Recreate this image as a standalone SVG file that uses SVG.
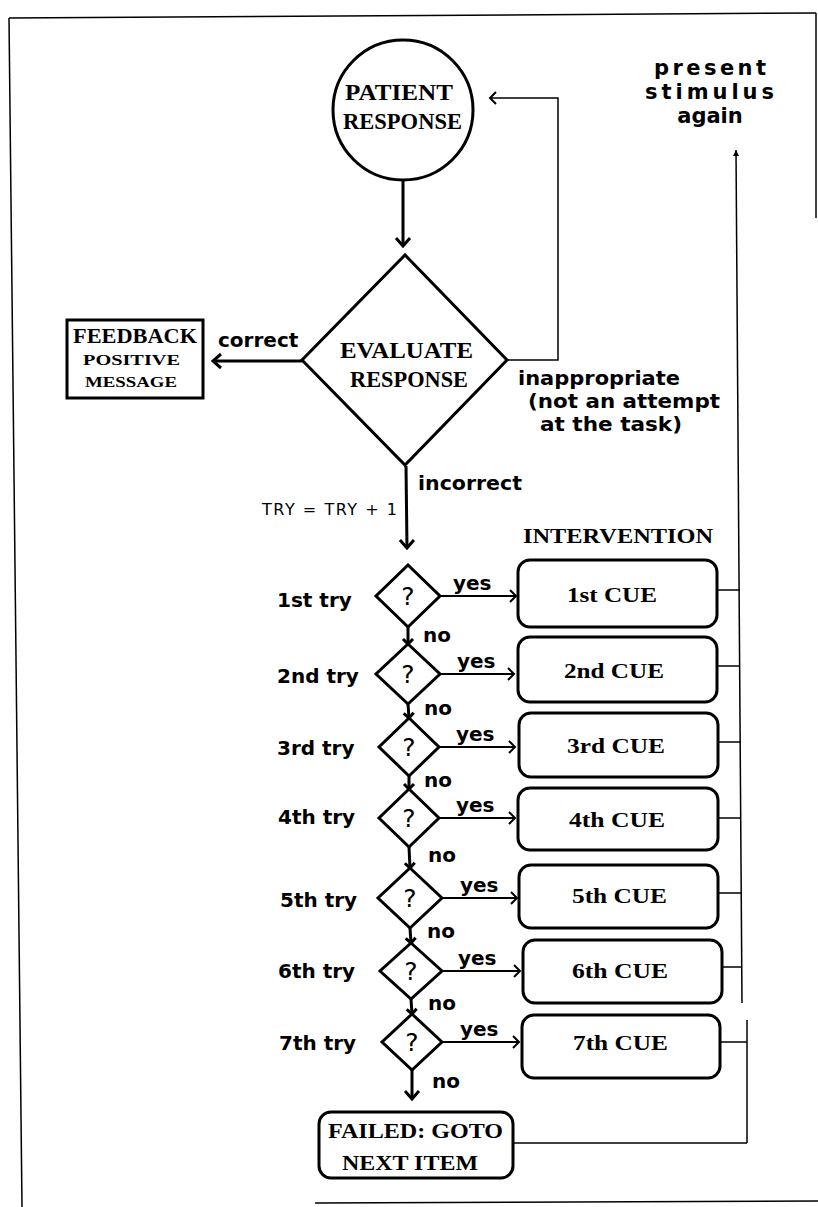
<svg xmlns="http://www.w3.org/2000/svg" width="818" height="1207" viewBox="0 0 818 1207">
<style>
.thick{fill:none;stroke:#000;stroke-width:3}
.shape{fill:#fff;stroke:#000;stroke-width:3}
.thin{fill:none;stroke:#000;stroke-width:1.5}
.yes{fill:none;stroke:#000;stroke-width:2}
.lbl{font-family:"DejaVu Sans",sans-serif;font-weight:bold;font-size:20px;fill:#000}
.node{font-family:"Liberation Serif",serif;font-weight:bold;fill:#000;text-anchor:middle}
.q{font-family:"DejaVu Sans",sans-serif;font-size:25px;text-anchor:middle;fill:#000}
.mid{text-anchor:middle}
.stim{font-family:"DejaVu Sans",sans-serif;font-weight:bold;font-size:21px;fill:#000;text-anchor:middle}
</style>
<defs>
<marker id="ahBold" markerUnits="userSpaceOnUse" viewBox="-12 -9 14 18" refX="0" refY="0" markerWidth="14" markerHeight="18" orient="auto"><path d="M-8,-7 L0,0 L-8,7" fill="none" stroke="#000" stroke-width="3"/></marker>
<marker id="ahOpen" markerUnits="userSpaceOnUse" viewBox="-10 -8 12 16" refX="0" refY="0" markerWidth="12" markerHeight="16" orient="auto"><path d="M-6,-6 L0,0 L-6,6" fill="none" stroke="#000" stroke-width="2"/></marker>
<marker id="ahSmall" markerUnits="userSpaceOnUse" viewBox="-8 -7 10 14" refX="0" refY="0" markerWidth="10" markerHeight="14" orient="auto"><path d="M-5,-5 L0,0 L-5,5" fill="none" stroke="#000" stroke-width="3"/></marker>
<marker id="ahTiny" markerUnits="userSpaceOnUse" viewBox="-8 -5 10 10" refX="0" refY="0" markerWidth="10" markerHeight="10" orient="auto"><path d="M-6,-3 L0,0 L-6,3 Z" fill="#000"/></marker>
</defs>
<rect width="818" height="1207" fill="#fff"/>
<g id="frame" class="thin">
<path d="M9,18 L816,13"/>
<path d="M9,18 L22,1207"/>
<path d="M816,13 L816,218"/>
<path d="M315,1203 L818,1201"/>
</g>
<g id="connectors">
<path class="thick" d="M403,181 L403,246" marker-end="url(#ahBold)"/>
<path class="thick" d="M302,361 L213,361" marker-end="url(#ahBold)"/>
<path class="thin" d="M507,360 L558,360 L558,98 L490,98" marker-end="url(#ahOpen)"/>
<path class="thick" d="M406,466 L407,548" marker-end="url(#ahBold)"/>
<path class="thick" d="M408,627 L408,644" marker-end="url(#ahSmall)"/>
<path class="thick" d="M408,704 L409,718" marker-end="url(#ahSmall)"/>
<path class="thick" d="M409,776 L409,789" marker-end="url(#ahSmall)"/>
<path class="thick" d="M409,847 L410,868" marker-end="url(#ahSmall)"/>
<path class="thick" d="M410,928 L411,943" marker-end="url(#ahSmall)"/>
<path class="thick" d="M411,999 L412,1014" marker-end="url(#ahSmall)"/>
<path class="thick" d="M412,1070 L412,1099" marker-end="url(#ahBold)"/>
<path class="yes" d="M440,596 L516,596" marker-end="url(#ahOpen)"/>
<path class="yes" d="M440,674 L514,674" marker-end="url(#ahOpen)"/>
<path class="yes" d="M439,747 L515,747" marker-end="url(#ahOpen)"/>
<path class="yes" d="M439,818 L515,818" marker-end="url(#ahOpen)"/>
<path class="yes" d="M442,898 L517,898" marker-end="url(#ahOpen)"/>
<path class="yes" d="M442,971 L520,971" marker-end="url(#ahOpen)"/>
<path class="yes" d="M442,1042 L519,1042" marker-end="url(#ahOpen)"/>
<path class="thin" d="M742,1003 L736,150" marker-end="url(#ahTiny)"/>
<path class="thin" d="M717,590 L740,590"/>
<path class="thin" d="M717,666 L740,666"/>
<path class="thin" d="M718,742 L741,742"/>
<path class="thin" d="M718,818 L741,818"/>
<path class="thin" d="M718,893 L742,893"/>
<path class="thin" d="M722,967 L742,967"/>
<path class="thin" d="M747,1020 L747,1143"/>
<path class="thin" d="M720,1042 L747,1042"/>
<path class="thin" d="M513,1143 L747,1143"/>
</g>
<g id="patient-response">
<circle class="shape" cx="403" cy="110" r="70"/>
<text class="node" x="399" y="100" font-size="24" textLength="108" lengthAdjust="spacingAndGlyphs">PATIENT</text>
<text class="node" x="402.5" y="129" font-size="23" textLength="119" lengthAdjust="spacingAndGlyphs">RESPONSE</text>
</g>
<g id="evaluate-response">
<polygon class="shape" points="405,255 507,360 405,465 302,360"/>
<text class="node" x="406.5" y="358" font-size="24" textLength="133" lengthAdjust="spacingAndGlyphs">EVALUATE</text>
<text class="node" x="409" y="387" font-size="23" textLength="118" lengthAdjust="spacingAndGlyphs">RESPONSE</text>
</g>
<g id="feedback">
<rect class="shape" x="67" y="320" width="136" height="78"/>
<text class="node" x="135" y="343" font-size="22" textLength="124" lengthAdjust="spacingAndGlyphs">FEEDBACK</text>
<text class="node" x="131.5" y="365" font-size="15" textLength="97" lengthAdjust="spacingAndGlyphs">POSITIVE</text>
<text class="node" x="131" y="387" font-size="15" textLength="92" lengthAdjust="spacingAndGlyphs">MESSAGE</text>
</g>
<g id="labels">
<text class="lbl" x="218" y="347">correct</text>
<text class="lbl" x="518" y="385" textLength="162" lengthAdjust="spacingAndGlyphs">inappropriate</text>
<text class="lbl" x="528" y="408" textLength="192" lengthAdjust="spacingAndGlyphs">(not an attempt</text>
<text class="lbl" x="540" y="431" textLength="142" lengthAdjust="spacingAndGlyphs">at the task)</text>
<text class="lbl" x="418" y="490" textLength="104" lengthAdjust="spacingAndGlyphs">incorrect</text>
<text x="262" y="515" font-family="DejaVu Sans, sans-serif" font-size="16" textLength="135" lengthAdjust="spacing">TRY = TRY + 1</text>
<text class="node" x="618" y="543" font-size="21" textLength="190" lengthAdjust="spacingAndGlyphs">INTERVENTION</text>
<text class="stim" x="710" y="75" textLength="112" lengthAdjust="spacing">present</text>
<text class="stim" x="709.5" y="99" textLength="129" lengthAdjust="spacing">stimulus</text>
<text class="stim" x="710" y="123">again</text>
<text class="lbl" x="277" y="607">1st try</text>
<text class="lbl" x="277" y="683">2nd try</text>
<text class="lbl" x="277" y="755">3rd try</text>
<text class="lbl" x="278" y="824">4th try</text>
<text class="lbl" x="280" y="907">5th try</text>
<text class="lbl" x="278" y="978">6th try</text>
<text class="lbl" x="279" y="1050">7th try</text>
<text class="lbl" x="453" y="590">yes</text>
<text class="lbl" x="457" y="668">yes</text>
<text class="lbl" x="456" y="741">yes</text>
<text class="lbl" x="456" y="812">yes</text>
<text class="lbl" x="460" y="892">yes</text>
<text class="lbl" x="458" y="965">yes</text>
<text class="lbl" x="460" y="1036">yes</text>
<text class="lbl" x="423" y="642">no</text>
<text class="lbl" x="424" y="715">no</text>
<text class="lbl" x="424" y="787">no</text>
<text class="lbl" x="428" y="862">no</text>
<text class="lbl" x="427" y="938">no</text>
<text class="lbl" x="428" y="1010">no</text>
<text class="lbl" x="432" y="1088">no</text>
</g>
<g id="try1"><polygon class="shape" points="408,565 440,596 408,627 376,596"/><text class="q" x="408" y="605">?</text></g>
<g id="try2"><polygon class="shape" points="408,644 440,674 408,704 376,674"/><text class="q" x="408" y="683">?</text></g>
<g id="try3"><polygon class="shape" points="409,718 439,747 409,776 379,747"/><text class="q" x="409" y="756">?</text></g>
<g id="try4"><polygon class="shape" points="409,789 439,818 409,847 379,818"/><text class="q" x="409" y="827">?</text></g>
<g id="try5"><polygon class="shape" points="410,868 442,898 410,928 378,898"/><text class="q" x="410" y="907">?</text></g>
<g id="try6"><polygon class="shape" points="411,943 442,971 411,999 380,971"/><text class="q" x="411" y="980">?</text></g>
<g id="try7"><polygon class="shape" points="412,1014 442,1042 412,1070 382,1042"/><text class="q" x="412" y="1051">?</text></g>
<g id="cue1"><rect class="shape" x="518" y="560" width="199" height="67" rx="12"/><text class="node" x="612" y="602" font-size="22" textLength="90" lengthAdjust="spacingAndGlyphs">1st CUE</text></g>
<g id="cue2"><rect class="shape" x="518" y="637" width="199" height="65" rx="12"/><text class="node" x="614" y="678" font-size="22" textLength="100" lengthAdjust="spacingAndGlyphs">2nd CUE</text></g>
<g id="cue3"><rect class="shape" x="519" y="713" width="199" height="64" rx="12"/><text class="node" x="616" y="753" font-size="22" textLength="98" lengthAdjust="spacingAndGlyphs">3rd CUE</text></g>
<g id="cue4"><rect class="shape" x="518" y="788" width="200" height="62" rx="12"/><text class="node" x="617" y="827" font-size="22" textLength="96" lengthAdjust="spacingAndGlyphs">4th CUE</text></g>
<g id="cue5"><rect class="shape" x="519" y="865" width="199" height="63" rx="12"/><text class="node" x="619.5" y="903" font-size="22" textLength="95" lengthAdjust="spacingAndGlyphs">5th CUE</text></g>
<g id="cue6"><rect class="shape" x="523" y="940" width="199" height="63" rx="12"/><text class="node" x="620" y="978" font-size="22" textLength="96" lengthAdjust="spacingAndGlyphs">6th CUE</text></g>
<g id="cue7"><rect class="shape" x="522" y="1015" width="198" height="63" rx="12"/><text class="node" x="620.5" y="1050" font-size="22" textLength="95" lengthAdjust="spacingAndGlyphs">7th CUE</text></g>
<g id="failed"><rect class="shape" x="319" y="1112" width="194" height="66" rx="12"/><text class="node" x="415.5" y="1138" font-size="22" textLength="175" lengthAdjust="spacingAndGlyphs">FAILED: GOTO</text><text class="node" x="410" y="1170" font-size="22" textLength="136" lengthAdjust="spacingAndGlyphs">NEXT ITEM</text></g>
</svg>
